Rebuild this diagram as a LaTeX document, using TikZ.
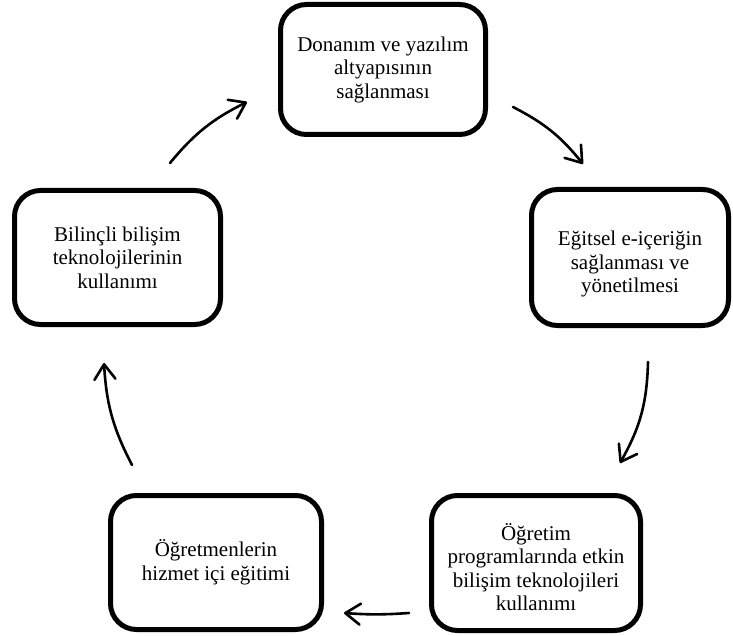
\documentclass[tikz,border=0pt]{standalone}
\usepackage{fontspec}
\setmainfont{Liberation Serif}
\usetikzlibrary{arrows.meta}
% invisible strut that lowers a box's text block a little
\newcommand{\lowerstrut}[1]{\rule{0pt}{#1}}
\begin{document}
\begin{tikzpicture}[x=1pt,y=-1pt,
  stagebox/.style={draw=black,line width=5pt,rounded corners=26pt,
    align=center,inner sep=0pt,
    font=\fontsize{21pt}{23.5pt}\selectfont},
  cyclearrow/.style={line width=2.6pt,line cap=round,
    -{Straight Barb[length=15pt,width=21pt,line cap=round,line join=round]}}]
\useasboundingbox (0,0) rectangle (733,636);

% stages of the cycle
\node[stagebox,minimum width=205pt,minimum height=130pt] (infra) at (383,69.5)
  {Donanım ve yazılım\\altyapısının\\sağlanması};
\node[stagebox,minimum width=197pt,minimum height=136pt] (icerik) at (630,257.5)
  {\lowerstrut{28pt}Eğitsel e-içeriğin\\sağlanması ve\\yönetilmesi};
\node[stagebox,minimum width=209pt,minimum height=135pt] (program) at (536,563)
  {\lowerstrut{25pt}Öğretim\\programlarında etkin\\bilişim teknolojileri\\kullanımı};
\node[stagebox,minimum width=211pt,minimum height=134pt] (hizmet) at (216,562.5)
  {Öğretmenlerin\\hizmet içi eğitimi};
\node[stagebox,minimum width=206pt,minimum height=134pt] (bilincli) at (117.5,257.5)
  {Bilinçli bilişim\\teknolojilerinin\\kullanımı};

% free ends of the connecting arrows
\coordinate (a1s) at (170,163);  \coordinate (a1e) at (247,102);
\coordinate (a2s) at (513,107);  \coordinate (a2e) at (583,164);
\coordinate (a3s) at (648,362);  \coordinate (a3e) at (620,463);
\coordinate (a4s) at (409,613);  \coordinate (a4e) at (344,613);
\coordinate (a5s) at (132,465);  \coordinate (a5e) at (104,363);

\draw[cyclearrow] (a1s) to[bend left=12] (a1e);
\draw[cyclearrow] (a2s) to[bend left=12] (a2e);
\draw[cyclearrow] (a3s) to[bend left=14] (a3e);
\draw[cyclearrow] (a4s) to[bend left=4] (a4e);
\draw[cyclearrow] (a5s) to[bend left=12] (a5e);
\end{tikzpicture}
\end{document}
